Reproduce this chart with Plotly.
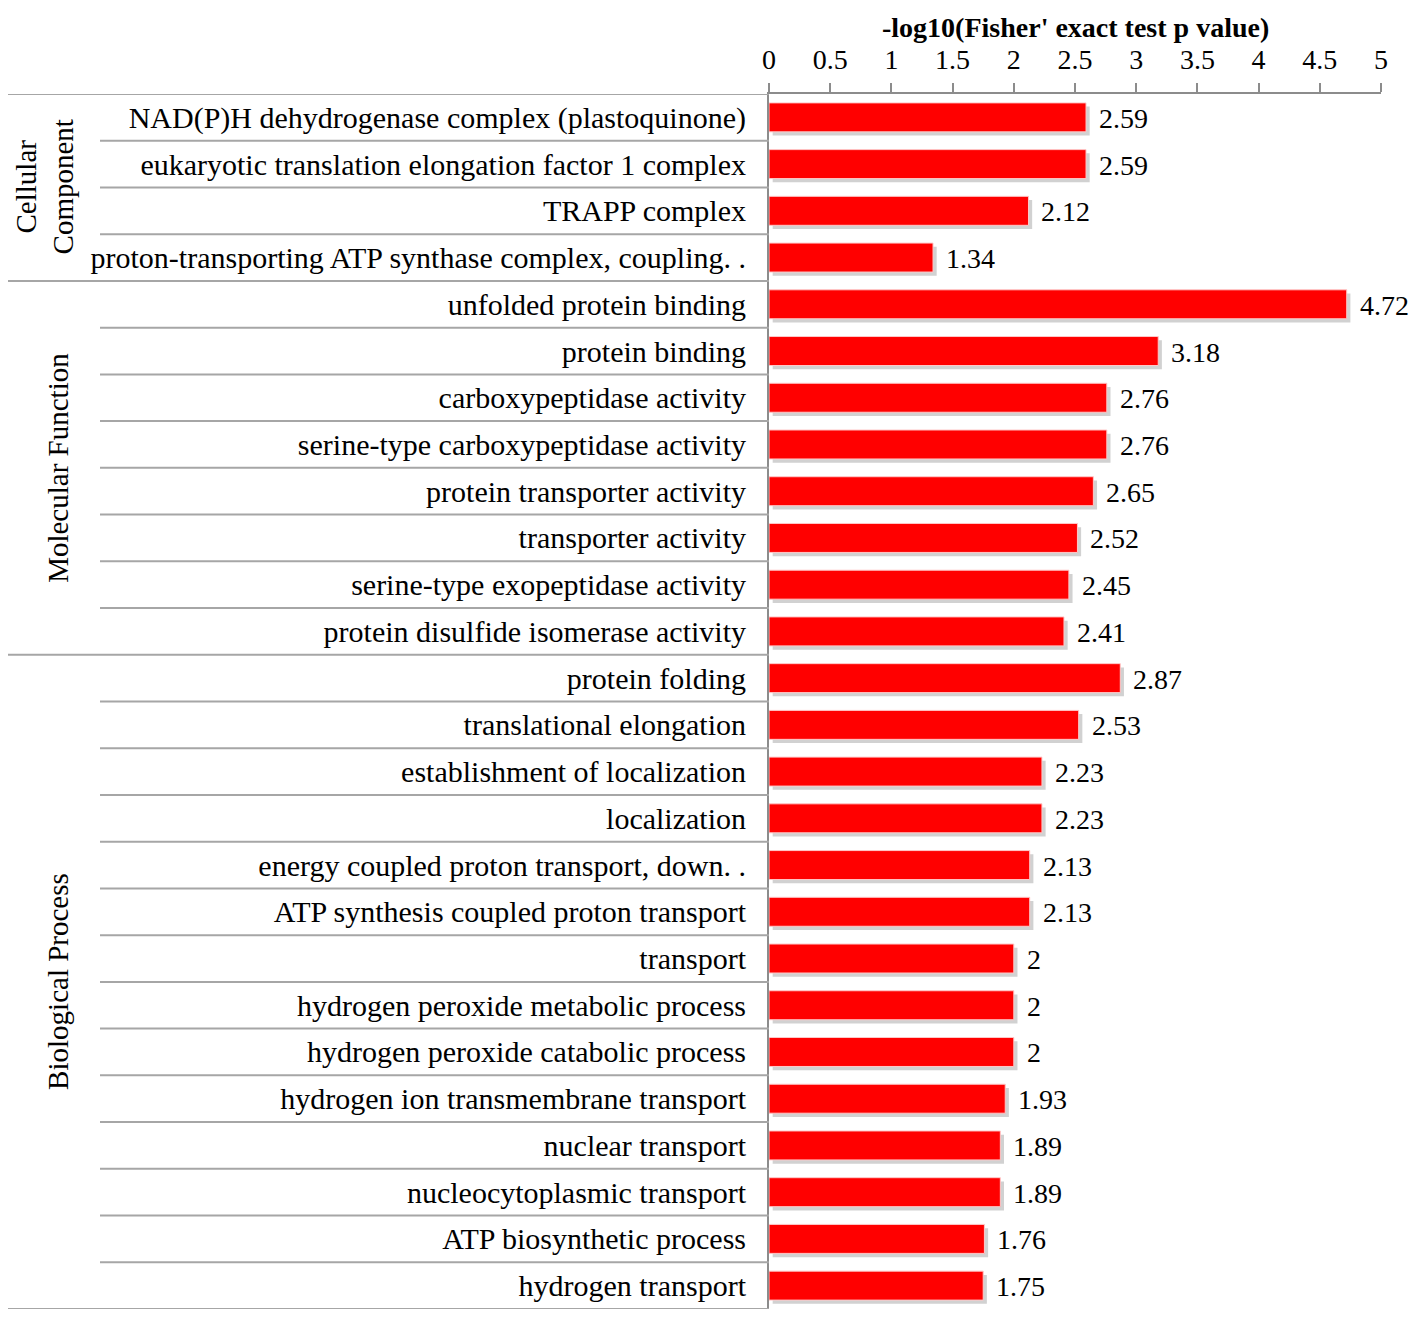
import plotly.graph_objects as go

# ---- data ----
groups = ["Cellular<br>Component", "Molecular Function", "Biological Process"]
cc_terms = [
    "NAD(P)H dehydrogenase complex (plastoquinone)",
    "eukaryotic translation elongation factor 1 complex",
    "TRAPP complex",
    "proton-transporting ATP synthase complex, coupling. .",
]
cc_values = [2.59, 2.59, 2.12, 1.34]
mf_terms = [
    "unfolded protein binding",
    "protein binding",
    "carboxypeptidase activity",
    "serine-type carboxypeptidase activity",
    "protein transporter activity",
    "transporter activity",
    "serine-type exopeptidase activity",
    "protein disulfide isomerase activity",
]
mf_values = [4.72, 3.18, 2.76, 2.76, 2.65, 2.52, 2.45, 2.41]
bp_terms = [
    "protein folding",
    "translational elongation",
    "establishment of localization",
    "localization",
    "energy coupled proton transport, down. .",
    "ATP synthesis coupled proton transport",
    "transport",
    "hydrogen peroxide metabolic process",
    "hydrogen peroxide catabolic process",
    "hydrogen ion transmembrane transport",
    "nuclear transport",
    "nucleocytoplasmic transport",
    "ATP biosynthetic process",
    "hydrogen transport",
]
bp_values = [2.87, 2.53, 2.23, 2.23, 2.13, 2.13, 2.0, 2.0, 2.0, 1.93, 1.89, 1.89, 1.76, 1.75]
x_ticks = [0, 0.5, 1, 1.5, 2, 2.5, 3, 3.5, 4, 4.5, 5]
x_title = "-log10(Fisher' exact test p value)"

group_terms = [cc_terms, mf_terms, bp_terms]
terms = cc_terms + mf_terms + bp_terms
values = cc_values + mf_values + bp_values
n = len(terms)

FONT = "Liberation Serif, Times New Roman, serif"
# page body has an 8px margin; size the figure so the plot lands where the reference has it
BODY = 8
W, H = 1418 - 2 * BODY, 1322 - 2 * BODY
ML, MT = 769 - BODY, 94 - BODY
MR = 1418 - 1381 - BODY
MB = 1322 - 1309 - BODY
plot_w = W - ML - MR

BAR_W = 0.62

fig = go.Figure()

# shadow bars (same data, drawn on a slightly shifted overlay axis)
fig.add_trace(go.Bar(
    x=values, y=terms, orientation="h", xaxis="x2",
    marker=dict(color="rgba(90,90,90,0.28)", line=dict(width=0)),
    width=BAR_W, offset=-BAR_W / 2 + 0.08, hoverinfo="skip", showlegend=False,
))
# main bars (top-most overlay axis)
fig.add_trace(go.Bar(
    x=values, y=terms, orientation="h", xaxis="x3",
    marker=dict(color="#FF0000", line=dict(color="#FFC8C8", width=1)),
    width=BAR_W, showlegend=False,
))

# value labels
for t, v in zip(terms, values):
    fig.add_annotation(x=v, y=t, xref="x", yref="y", text=f"{v:g}",
                       showarrow=False, xanchor="left", yanchor="middle",
                       xshift=12, yshift=-1, borderpad=0,
                       font=dict(family=FONT, size=28, color="black"))

def px2paper(px):
    return (px - BODY - ML) / plot_w

line_col = "#A6A6A6"
idx = 0
group_bounds = [-0.5]
for g in group_terms:
    for k in range(1, len(g)):
        yy = idx + k - 0.5
        fig.add_shape(type="line", xref="paper", yref="y", x0=px2paper(100), x1=0,
                      y0=yy, y1=yy, line=dict(color=line_col, width=2))
    idx += len(g)
    group_bounds.append(idx - 0.5)
for yy in group_bounds:
    fig.add_shape(type="line", xref="paper", yref="y", x0=px2paper(0), x1=0,
                  y0=yy, y1=yy, line=dict(color=line_col, width=2))

# group labels
idx = 0
for name, g in zip(groups, group_terms):
    center = idx + (len(g) - 1) / 2
    xpx = 45 if "<br>" in name else 58
    fig.add_annotation(x=px2paper(xpx), y=center, xref="paper", yref="y",
                       text=name, textangle=-90, showarrow=False,
                       xanchor="center", yanchor="middle", borderpad=0,
                       font=dict(family=FONT, size=29, color="black"))
    idx += len(g)

# axis title (placed above the tick labels)
fig.add_annotation(x=0.5, y=1, xref="paper", yref="paper", text=f"<b>{x_title}</b>",
                   showarrow=False, xanchor="center", yanchor="middle", yshift=67,
                   borderpad=0, font=dict(family=FONT, size=28, color="black"))

fig.update_layout(
    width=W, height=H,
    margin=dict(l=ML, r=MR, t=MT, b=MB, pad=0, autoexpand=False),
    plot_bgcolor="white", paper_bgcolor="white",
    barmode="overlay",
    font=dict(family=FONT, color="black"),
    xaxis=dict(
        side="top", range=[0, 5], tickvals=x_ticks,
        ticktext=[f"{t:g}" for t in x_ticks],
        showgrid=False, zeroline=False, automargin=False,
        showline=True, linecolor="#8C8C8C", linewidth=2,
        ticks="outside", ticklen=9, tickcolor="#8C8C8C", tickwidth=2,
        tickfont=dict(family=FONT, size=28, color="black"),
        ticklabelstandoff=3,
    ),
    xaxis2=dict(overlaying="x", range=[-0.03, 4.97], visible=False, side="top"),
    xaxis3=dict(overlaying="x", range=[0, 5], visible=False, side="top"),
    yaxis=dict(
        categoryorder="array", categoryarray=terms, range=[n - 0.5, -0.5],
        showgrid=False, zeroline=False, automargin=False,
        showline=True, linecolor="#8C8C8C", linewidth=2,
        ticks="", tickfont=dict(family=FONT, size=30, color="black"),
        ticklabelstandoff=15,
    ),
)

fig.write_html("out.html")
